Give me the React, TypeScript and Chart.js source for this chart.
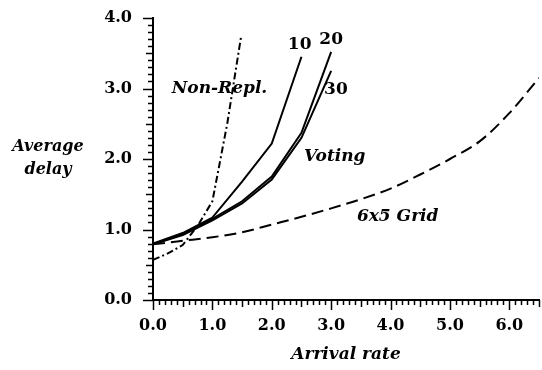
import React, { useEffect, useRef } from 'react';
import { Chart, registerables } from 'chart.js';

Chart.register(...registerables);

const rateNonRepl = [0, 0.25, 0.5, 0.75, 1.0, 1.25, 1.48];
const delayNonRepl = [0.57, 0.66, 0.78, 1.05, 1.4, 2.5, 3.72];

const rateVoting = [0, 0.5, 1.0, 1.5, 2.0, 2.5, 3.0];
const delayVoting10 = [0.8, 0.95, 1.17, 1.68, 2.22, 3.45];
const delayVoting20 = [0.79, 0.93, 1.15, 1.4, 1.75, 2.37, 3.52];
const delayVoting30 = [0.79, 0.92, 1.13, 1.37, 1.71, 2.3, 3.25];

const rateGrid = [0, 0.5, 1.0, 1.5, 2.0, 2.5, 3.0, 3.5, 4.0, 4.5, 5.0, 5.5, 6.0, 6.5];
const delayGrid = [0.79, 0.84, 0.89, 0.96, 1.07, 1.18, 1.3, 1.43, 1.58, 1.78, 2.0, 2.25, 2.65, 3.15];

const curveLabels = ['Non-Repl.', '10', '20', '30', 'Voting', '6x5 Grid'];
const curveLabelRates = [1.12, 2.47, 3.0, 3.08, 3.06, 4.12];
const curveLabelDelays = [3.0, 3.62, 3.7, 2.99, 2.03, 1.19];
const curveLabelItalic = [true, false, false, false, true, true];

const xTitle = 'Arrival rate';
const yTitleLines = ['Average', 'delay'];

const X_MIN = 0;
const X_MAX = 6.5;
const Y_MIN = 0;
const Y_MAX = 4;

const toPts = (xs: number[], ys: number[]) => ys.map((y, i) => ({ x: xs[i], y }));

const FONT = '"DejaVu Serif", "Liberation Serif", serif';

const decorPlugin = {
  id: 'decor',
  afterDraw(chart: any) {
    const ctx = chart.ctx;
    const xs = chart.scales.x;
    const ys = chart.scales.y;
    const area = chart.chartArea;
    ctx.save();
    ctx.strokeStyle = '#000';
    ctx.lineWidth = 1.5;
    for (let i = 0; i <= Math.round(X_MAX * 10); i++) {
      const v = i / 10;
      const px = Math.round(xs.getPixelForValue(v)) + 0.5;
      const len = i % 10 === 0 ? 10 : i % 5 === 0 ? 7 : 5;
      ctx.beginPath();
      ctx.moveTo(px, area.bottom);
      ctx.lineTo(px, area.bottom + len);
      ctx.stroke();
    }
    for (let i = 0; i <= Math.round(Y_MAX * 10); i++) {
      const v = i / 10;
      const py = Math.round(ys.getPixelForValue(v)) + 0.5;
      const len = i % 10 === 0 ? 10 : i % 5 === 0 ? 7 : 5;
      ctx.beginPath();
      ctx.moveTo(area.left, py);
      ctx.lineTo(area.left - len, py);
      ctx.stroke();
    }
    ctx.fillStyle = '#000';
    ctx.textAlign = 'center';
    ctx.textBaseline = 'middle';
    curveLabels.forEach((t, i) => {
      ctx.font = (curveLabelItalic[i] ? 'italic ' : '') + 'bold 17px ' + FONT;
      ctx.fillText(t, xs.getPixelForValue(curveLabelRates[i]), ys.getPixelForValue(curveLabelDelays[i]));
    });
    ctx.font = 'italic bold 17px ' + FONT;
    ctx.fillText(xTitle, (area.left + area.right) / 2, 355);
    ctx.font = 'italic bold 16px ' + FONT;
    ctx.fillText(yTitleLines[0], 48, 147);
    ctx.fillText(yTitleLines[1], 48, 170);
    ctx.restore();
  },
};

export default function App() {
  const ref = useRef<HTMLCanvasElement | null>(null);
  useEffect(() => {
    if (!ref.current) return;
    const tickFont = { family: FONT, size: 16, weight: 'bold' as const };
    const labelCb = (v: any) => {
      const n = Number(v);
      return Math.abs(n - Math.round(n)) < 1e-6 ? n.toFixed(1) : '';
    };
    const line = (label: string, data: any, extra: any = {}) => ({
      label,
      data,
      borderColor: '#000',
      borderWidth: 2,
      pointRadius: 0,
      tension: 0,
      ...extra,
    });
    const chart = new Chart(ref.current, {
      type: 'line',
      data: {
        datasets: [
          line('Non-Repl.', toPts(rateNonRepl, delayNonRepl), { borderDash: [7, 3, 2, 3] }),
          line('Voting 10', toPts(rateVoting, delayVoting10)),
          line('Voting 20', toPts(rateVoting, delayVoting20)),
          line('Voting 30', toPts(rateVoting, delayVoting30)),
          line('6x5 Grid', toPts(rateGrid, delayGrid), {
            borderDash: [12, 6],
            cubicInterpolationMode: 'monotone',
          }),
        ],
      },
      options: {
        animation: false,
        responsive: false,
        layout: { padding: { top: 18, right: 3, left: 0, bottom: 0 } },
        plugins: { legend: { display: false }, tooltip: { enabled: false } },
        scales: {
          x: {
            type: 'linear',
            min: X_MIN,
            max: X_MAX,
            afterFit: (s: any) => {
              s.height = 70;
              s.paddingLeft = 0;
              s.paddingRight = 0;
            },
            ticks: {
              stepSize: 0.1,
              autoSkip: false,
              maxRotation: 0,
              callback: labelCb,
              color: '#000',
              font: tickFont,
              padding: 16,
            },
            grid: { display: true, drawOnChartArea: false, drawTicks: false },
            border: { display: true, color: '#000', width: 2 },
          },
          y: {
            type: 'linear',
            min: Y_MIN,
            max: Y_MAX,
            afterFit: (s: any) => {
              s.width = 153;
              s.paddingTop = 0;
              s.paddingBottom = 0;
            },
            ticks: {
              stepSize: 0.1,
              autoSkip: false,
              callback: labelCb,
              color: '#000',
              font: tickFont,
              padding: 21,
            },
            grid: { display: true, drawOnChartArea: false, drawTicks: false },
            border: { display: true, color: '#000', width: 2 },
          },
        },
      },
      plugins: [decorPlugin],
    });
    return () => chart.destroy();
  }, []);
  return (
    <div style={{ position: 'fixed', left: 0, top: 0, width: 542, height: 370, background: '#fff' }}>
      <canvas ref={ref} width={542} height={370} />
    </div>
  );
}
